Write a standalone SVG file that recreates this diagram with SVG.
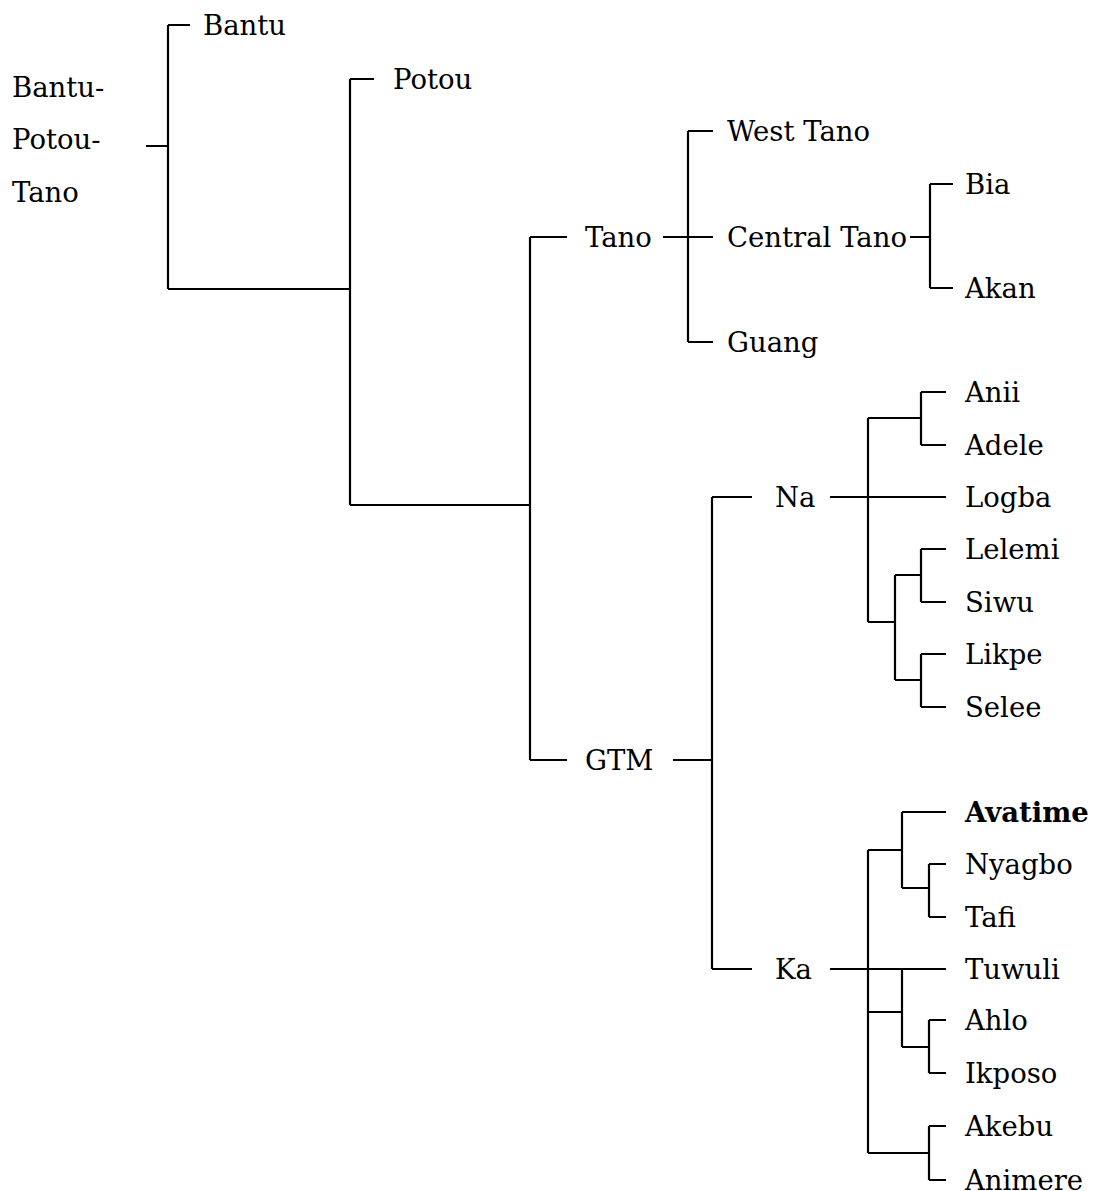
<svg xmlns="http://www.w3.org/2000/svg" width="1093" height="1191" viewBox="0 0 1093 1191">
<style>
text{font-family:"DejaVu Serif","Liberation Serif",serif;font-size:27.5px;fill:#000}
.b{font-weight:bold}
#edges path{fill:none;stroke:#000;stroke-width:2.2}
</style>
<rect width="1093" height="1191" fill="#fff"/>
<g id="edges">
<path d="M146 146H168M168 25V289M168 25H190M168 289H350"/>
<path d="M350 79V505M350 79H374M350 505H530"/>
<path d="M530 237V760M530 237H567M530 760H567"/>
<path d="M663 237H688M688 131V342M688 131H713M688 237H713M688 342H713"/>
<path d="M910 237H930M930 184V288M930 184H953M930 288H953"/>
<path d="M673 760H712M712 497V969M712 497H752M712 969H752"/>
<path d="M830 497H946M868 418V622M868 418H921M921 392V445M921 392H946M921 445H946"/>
<path d="M868 622H895M895 575V680M895 575H921M921 549V602M921 549H946M921 602H946M895 680H921M921 654V707M921 654H946M921 707H946"/>
<path d="M830 969H902M868 850V1153M868 850H902M902 812V888M902 812H946M902 888H929M929 864V917M929 864H946M929 917H946"/>
<path d="M868 1012H902M902 969V1047M902 969H946M902 1047H929M929 1020V1073M929 1020H946M929 1073H946"/>
<path d="M868 1153H929M929 1126V1180M929 1126H946M929 1180H946"/>
</g>
<g id="n-root"><text x="12" y="97">Bantu-</text><text x="12" y="149">Potou-</text><text x="12" y="202">Tano</text></g>
<g id="n-bantu"><text x="203" y="35">Bantu</text></g>
<g id="n-potou"><text x="393" y="89">Potou</text></g>
<g id="n-tano"><text x="585" y="247">Tano</text></g>
<g id="n-westtano"><text x="727" y="141">West Tano</text></g>
<g id="n-centraltano"><text x="727" y="247">Central Tano</text></g>
<g id="n-bia"><text x="965" y="194">Bia</text></g>
<g id="n-akan"><text x="965" y="298">Akan</text></g>
<g id="n-guang"><text x="727" y="352">Guang</text></g>
<g id="n-gtm"><text x="585" y="770">GTM</text></g>
<g id="n-na"><text x="775" y="507">Na</text></g>
<g id="n-anii"><text x="965" y="402">Anii</text></g>
<g id="n-adele"><text x="965" y="455">Adele</text></g>
<g id="n-logba"><text x="965" y="507">Logba</text></g>
<g id="n-lelemi"><text x="965" y="559">Lelemi</text></g>
<g id="n-siwu"><text x="965" y="612">Siwu</text></g>
<g id="n-likpe"><text x="965" y="664">Likpe</text></g>
<g id="n-selee"><text x="965" y="717">Selee</text></g>
<g id="n-ka"><text x="775" y="979">Ka</text></g>
<g id="n-avatime"><text class="b" x="965" y="822">Avatime</text></g>
<g id="n-nyagbo"><text x="965" y="874">Nyagbo</text></g>
<g id="n-tafi"><text x="965" y="927">Tafi</text></g>
<g id="n-tuwuli"><text x="965" y="979">Tuwuli</text></g>
<g id="n-ahlo"><text x="965" y="1030">Ahlo</text></g>
<g id="n-ikposo"><text x="965" y="1083">Ikposo</text></g>
<g id="n-akebu"><text x="965" y="1136">Akebu</text></g>
<g id="n-animere"><text x="965" y="1190">Animere</text></g>
</svg>
